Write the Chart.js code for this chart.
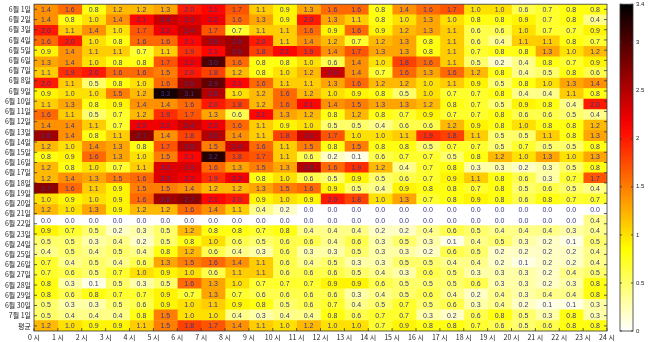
<!DOCTYPE html>
<html>
<head>
<meta charset="utf-8">
<script src="https://cdn.jsdelivr.net/npm/chart.js@4.4.1/dist/chart.umd.min.js"></script>
<style>
html, body { margin: 0; padding: 0; background: #fff; }
#wrap { width: 652px; height: 342px; }
</style>
</head>
<body>
<div id="wrap"><canvas id="heatChart" width="652" height="342"></canvas></div>
<script>
// x tick labels sit on the cell edges, 25 of them for 24 hours
const hourLabels = ['0 시', '1 시', '2 시', '3 시', '4 시', '5 시', '6 시', '7 시', '8 시', '9 시', '10 시', '11 시',
    '12 시', '13 시', '14 시', '15 시', '16 시', '17 시', '18 시', '19 시', '20 시', '21 시', '22 시', '23 시', '24 시'];

const dayLabels = ['6월 1일', '6월 2일', '6월 3일', '6월 4일', '6월 5일', '6월 6일', '6월 7일', '6월 8일', '6월 9일', '6월 10일',
    '6월 11일', '6월 12일', '6월 13일', '6월 14일', '6월 15일', '6월 16일', '6월 17일', '6월 18일', '6월 19일', '6월 20일',
    '6월 21일', '6월 22일', '6월 23일', '6월 24일', '6월 25일', '6월 26일', '6월 27일', '6월 28일', '6월 29일', '6월 30일',
    '7월 1일', '평균'];

const colorTicksMax = 3.4;

// one row per day, 0시 .. 23시
const june1  = [1.4, 1.6, 0.8, 1.2, 1.2, 1.3, 2.0, 2.1, 1.7, 1.1, 0.9, 1.3, 1.6, 1.6, 0.8, 1.4, 1.6, 1.7, 1.0, 1.0, 0.6, 0.7, 0.8, 0.8];
const june2  = [1.4, 0.8, 1.0, 1.4, 2.1, 2.4, 2.3, 2.2, 1.6, 1.3, 0.9, 2.0, 1.3, 1.1, 0.8, 1.0, 1.3, 1.0, 0.8, 0.8, 0.9, 0.7, 0.8, 0.4];
const june3  = [2.0, 1.1, 1.4, 1.0, 1.7, 2.2, 2.4, 1.7, 0.7, 1.1, 1.1, 1.6, 0.9, 1.6, 0.9, 1.2, 1.3, 1.1, 0.6, 0.6, 1.0, 0.7, 0.7, 0.9];
const june4  = [1.6, 2.0, 1.0, 0.8, 1.6, 1.6, 2.1, 2.5, 2.6, 2.0, 1.1, 1.4, 1.2, 0.7, 1.2, 1.3, 0.8, 1.1, 0.6, 0.4, 1.1, 1.1, 0.8, 0.7];
const june5  = [0.9, 1.4, 1.1, 1.1, 0.7, 1.1, 1.9, 2.1, 2.6, 1.8, 2.1, 1.9, 1.4, 1.7, 1.3, 1.3, 0.8, 1.1, 0.7, 0.8, 0.8, 1.3, 1.0, 1.2];
const june6  = [1.3, 1.4, 1.0, 0.8, 0.8, 1.7, 2.2, 3.0, 1.6, 0.8, 0.8, 1.0, 0.6, 1.4, 1.0, 1.8, 1.6, 1.1, 0.5, 0.2, 0.4, 0.8, 0.7, 0.9];
const june7  = [1.1, 1.9, 2.0, 1.6, 1.6, 1.5, 2.0, 1.8, 1.2, 0.8, 1.0, 1.2, 2.4, 1.4, 0.7, 1.6, 1.3, 1.6, 1.2, 0.8, 0.4, 0.5, 0.8, 0.6];
const june8  = [2.0, 1.1, 0.5, 0.8, 1.0, 1.6, 2.6, 2.9, 2.1, 1.6, 1.1, 1.1, 1.3, 1.6, 1.2, 1.2, 1.0, 1.1, 0.9, 0.5, 0.8, 1.0, 1.3, 1.4];
const june9  = [0.9, 1.0, 1.0, 1.5, 1.2, 3.3, 3.1, 2.5, 1.0, 1.2, 1.6, 1.2, 1.0, 0.9, 0.8, 0.5, 1.0, 0.7, 0.7, 0.8, 0.4, 0.4, 1.1, 0.8];
const june10 = [1.1, 1.3, 0.8, 0.9, 1.4, 1.4, 1.6, 2.0, 1.8, 1.2, 1.6, 2.1, 1.4, 1.5, 1.3, 1.3, 1.2, 0.8, 0.7, 0.5, 0.9, 0.8, 0.4, 2.0];
const june11 = [1.6, 1.1, 0.5, 0.7, 1.2, 1.9, 1.7, 1.3, 0.6, 2.1, 1.3, 1.2, 0.8, 1.2, 0.8, 0.7, 0.9, 0.7, 0.7, 0.8, 0.6, 0.6, 0.5, 0.4];
const june12 = [1.4, 1.4, 1.1, 0.7, 2.2, 2.2, 2.4, 2.2, 1.6, 1.1, 0.9, 1.0, 0.5, 0.5, 0.4, 0.6, 0.6, 1.2, 0.9, 0.8, 1.0, 0.8, 0.8, 1.2];
const june13 = [2.6, 1.4, 0.8, 1.1, 2.7, 1.4, 1.8, 2.5, 1.4, 1.1, 1.8, 2.4, 1.7, 1.0, 1.0, 1.1, 1.9, 1.8, 1.1, 0.5, 0.5, 1.1, 0.8, 1.3];
const june14 = [1.2, 1.0, 1.4, 1.3, 0.8, 1.7, 2.5, 1.5, 2.4, 1.6, 1.1, 1.5, 0.8, 1.5, 0.8, 0.8, 0.5, 0.7, 0.7, 0.5, 0.7, 0.5, 0.5, 0.8];
const june15 = [0.8, 0.9, 1.6, 1.3, 1.0, 1.5, 2.1, 3.2, 1.8, 1.7, 1.1, 0.6, 0.2, 0.1, 0.6, 0.7, 0.7, 0.5, 0.8, 1.2, 1.0, 1.3, 1.0, 1.3];
const june16 = [1.2, 0.8, 1.0, 0.7, 1.1, 2.3, 2.3, 1.6, 1.3, 1.5, 1.3, 2.5, 1.6, 1.9, 1.2, 0.4, 0.7, 0.8, 0.3, 0.3, 0.2, 0.3, 0.5, 0.8];
const june17 = [1.2, 1.4, 1.3, 1.5, 1.6, 2.3, 2.2, 1.9, 2.2, 0.8, 1.0, 0.6, 0.5, 0.9, 0.5, 0.6, 0.7, 0.9, 1.1, 0.8, 0.6, 0.3, 0.7, 1.7];
const june18 = [2.7, 1.6, 1.1, 0.9, 1.5, 1.5, 1.4, 1.2, 1.2, 1.3, 1.5, 1.6, 0.9, 0.5, 0.4, 0.9, 0.8, 0.8, 0.7, 0.8, 0.5, 0.6, 0.5, 0.4];
const june19 = [1.0, 0.9, 1.0, 0.9, 1.6, 2.6, 2.7, 2.1, 2.0, 0.9, 1.0, 0.9, 2.0, 1.8, 1.0, 1.3, 0.7, 0.8, 0.9, 0.8, 0.6, 0.8, 0.7, 0.7];
const june20 = [1.2, 1.0, 1.3, 0.9, 1.2, 1.2, 1.6, 1.4, 1.1, 0.4, 0.2, 0.0, 0.0, 0.0, 0.0, 0.0, 0.0, 0.0, 0.0, 0.0, 0.0, 0.0, 0.0, 0.0];
const june21 = [0.0, 0.0, 0.0, 0.0, 0.0, 0.0, 0.0, 0.0, 0.0, 0.0, 0.0, 0.0, 0.0, 0.0, 0.0, 0.0, 0.0, 0.0, 0.0, 0.0, 0.0, 0.0, 0.0, 0.4];
const june22 = [0.9, 0.7, 0.5, 0.2, 0.3, 0.5, 1.2, 0.8, 0.8, 0.7, 0.8, 0.4, 0.4, 0.4, 0.2, 0.2, 0.4, 0.6, 0.5, 0.4, 0.4, 0.4, 0.3, 0.4];
const june23 = [0.5, 0.5, 0.3, 0.4, 0.2, 0.5, 0.8, 1.0, 0.6, 0.5, 0.6, 0.6, 0.4, 0.6, 0.3, 0.5, 0.3, 0.1, 0.4, 0.5, 0.3, 0.2, 0.1, 0.5];
const june24 = [0.4, 0.5, 0.4, 0.5, 0.4, 0.8, 1.2, 0.6, 0.4, 0.3, 0.6, 0.3, 0.3, 0.5, 0.3, 0.3, 0.2, 0.6, 0.5, 0.2, 0.2, 0.2, 0.2, 0.4];
const june25 = [0.7, 0.4, 0.5, 0.4, 0.6, 1.3, 1.5, 1.6, 1.4, 1.1, 0.6, 0.4, 0.5, 0.3, 0.3, 0.5, 0.5, 0.4, 0.4, 0.2, 0.1, 0.2, 0.2, 0.4];
const june26 = [0.7, 0.6, 0.5, 0.7, 1.0, 0.9, 1.0, 0.6, 1.1, 1.1, 0.6, 0.6, 0.6, 0.5, 0.4, 0.3, 0.6, 0.5, 0.3, 0.3, 0.3, 0.2, 0.4, 0.5];
const june27 = [0.8, 0.3, 0.1, 0.5, 0.3, 0.5, 1.6, 1.3, 1.0, 0.7, 0.7, 0.7, 0.9, 0.9, 0.6, 0.5, 0.5, 0.5, 0.6, 0.3, 0.3, 0.2, 0.3, 0.8];
const june28 = [0.8, 0.6, 0.8, 0.7, 0.7, 0.9, 0.7, 1.3, 0.7, 0.6, 0.6, 0.6, 0.6, 0.3, 0.4, 0.5, 0.6, 0.4, 0.2, 0.4, 0.3, 0.4, 0.4, 0.8];
const june29 = [0.5, 0.3, 0.3, 0.5, 0.6, 0.9, 1.0, 1.1, 0.9, 0.8, 0.5, 0.6, 0.7, 0.4, 0.5, 0.7, 0.5, 0.6, 0.3, 0.4, 0.2, 0.1, 0.1, 0.3];
const june30 = [0.5, 0.4, 0.4, 0.4, 0.8, 1.5, 1.0, 1.0, 0.4, 0.3, 0.4, 0.4, 0.8, 0.6, 0.7, 0.7, 0.3, 0.2, 0.6, 0.8, 0.5, 0.3, 0.8, 0.3];
const hourAvg = [1.2, 1.0, 0.9, 0.9, 1.1, 1.5, 1.8, 1.7, 1.4, 1.1, 1.0, 1.2, 1.0, 1.0, 0.7, 0.9, 0.8, 0.8, 0.7, 0.6, 0.5, 0.6, 0.8, 0.8];

const gridRows = [june1, june2, june3, june4, june5, june6, june7, june8, june9, june10,
    june11, june12, june13, june14, june15, june16, june17, june18, june19, june20,
    june21, june22, june23, june24, june25, june26, june27, june28, june29, june30, hourAvg];

const tickFont = { family: "'Noto Sans CJK KR', 'Noto Sans', sans-serif", size: 7 };

// flipped "hot": white -> yellow -> red -> black
function heatColor(v) {
    const t = 1 - Math.min(v, colorTicksMax) / colorTicksMax;
    const r = Math.min(1, t / 0.375);
    const g = Math.max(0, Math.min(1, (t - 0.375) / 0.375));
    const b = Math.max(0, Math.min(1, (t - 0.75) / 0.25));
    return 'rgb(' + Math.round(r * 255) + ',' + Math.round(g * 255) + ',' + Math.round(b * 255) + ')';
}

const cellText = {
    id: 'cellText',
    afterDatasetsDraw(chart) {
        const ctx = chart.ctx;
        ctx.save();
        ctx.font = '7px "Liberation Sans", Arial, sans-serif';
        ctx.fillStyle = '#34348a';
        ctx.textAlign = 'center';
        ctx.textBaseline = 'middle';
        chart.data.datasets.forEach((ds, hi) => {
            chart.getDatasetMeta(hi).data.forEach((bar, ri) => {
                const p = bar.getProps(['x', 'base', 'y'], true);
                ctx.fillText(gridRows[ri][hi].toFixed(1), (p.x + p.base) / 2, p.y + 0.5);
            });
        });
        ctx.restore();
    }
};

const frameAndBar = {
    id: 'frameAndBar',
    afterDraw(chart) {
        const ctx = chart.ctx;
        const a = chart.chartArea;
        const xs = chart.scales.x;
        const ys = chart.scales.y2;
        const cb = chart.scales.cb;
        ctx.save();
        ctx.strokeStyle = '#333';
        ctx.lineWidth = 0.8;
        ctx.strokeRect(a.left, a.top, a.right - a.left, a.bottom - a.top);

        // small inward ticks like the original plot
        ctx.beginPath();
        xs.ticks.forEach(t => {
            const px = xs.getPixelForValue(t.value);
            ctx.moveTo(px, a.bottom); ctx.lineTo(px, a.bottom - 3);
        });
        ys.ticks.forEach((t, i) => {
            const py = ys.getPixelForTick(i);
            ctx.moveTo(a.left, py); ctx.lineTo(a.left + 3, py);
            ctx.moveTo(a.right, py); ctx.lineTo(a.right - 3, py);
        });
        ctx.stroke();

        // colour bar
        const bx = cb.left + 13, bw = 13;
        const y0 = cb.getPixelForValue(0), y1 = cb.getPixelForValue(colorTicksMax);
        const grad = ctx.createLinearGradient(0, y0, 0, y1);
        for (let k = 0; k <= 20; k++) {
            grad.addColorStop(k / 20, heatColor(colorTicksMax * k / 20));
        }
        ctx.fillStyle = grad;
        ctx.fillRect(bx, y1, bw, y0 - y1);
        ctx.strokeRect(bx, y1, bw, y0 - y1);
        ctx.beginPath();
        cb.ticks.forEach(t => {
            const py = cb.getPixelForValue(t.value);
            ctx.moveTo(bx + bw, py); ctx.lineTo(bx + bw - 2, py);
            ctx.moveTo(bx, py); ctx.lineTo(bx + 2, py);
        });
        ctx.stroke();
        ctx.restore();
    }
};

const datasets = hourLabels.slice(0, 24).map((h, hi) => ({
    label: h,
    data: gridRows.map(() => 1),
    backgroundColor: gridRows.map(r => heatColor(r[hi])),
    borderWidth: 0,
    barPercentage: 1,
    categoryPercentage: 1,
    xAxisID: 'x',
    yAxisID: 'y'
}));

new Chart(document.getElementById('heatChart'), {
    type: 'bar',
    data: {
        labels: dayLabels.slice(0, 30).concat(['평균']),
        datasets: datasets
    },
    options: {
        indexAxis: 'y',
        responsive: false,
        animation: false,
        events: [],
        devicePixelRatio: 1,
        layout: { autoPadding: false, padding: { top: 1, left: 0, right: 0, bottom: 0 } },
        plugins: {
            legend: { display: false },
            tooltip: { enabled: false }
        },
        scales: {
            x: {
                type: 'linear',
                stacked: true,
                min: 0,
                max: 24,
                position: 'bottom',
                grid: { display: false, drawTicks: true, tickLength: 2 },
                border: { display: false },
                ticks: {
                    stepSize: 1,
                    autoSkip: false,
                    maxRotation: 0,
                    padding: 0,
                    font: tickFont,
                    color: '#222',
                    callback: v => hourLabels[v]
                },
                afterFit: s => { s.height = 11; }
            },
            y: {
                type: 'category',
                stacked: true,
                display: false,
                offset: true
            },
            y2: {
                type: 'category',
                labels: dayLabels,
                position: 'left',
                offset: true,
                grid: { display: false, drawTicks: true, tickLength: 3 },
                border: { display: false },
                ticks: { autoSkip: false, padding: 0, font: tickFont, color: '#222' },
                afterFit: s => { s.width = 34; }
            },
            cb: {
                type: 'linear',
                position: 'right',
                min: 0,
                max: colorTicksMax,
                offset: false,
                bounds: 'data',
                grid: { display: false, offset: false, drawTicks: true, tickLength: 29 },
                border: { display: false },
                ticks: {
                    stepSize: 0.5,
                    includeBounds: false,
                    padding: 0,
                    font: { size: 6, family: "'Liberation Sans', Arial, sans-serif" },
                    color: '#222',
                    callback: v => String(v)
                },
                afterFit: s => { s.width = 45; }
            }
        }
    },
    plugins: [cellText, frameAndBar]
});
</script>
</body>
</html>
